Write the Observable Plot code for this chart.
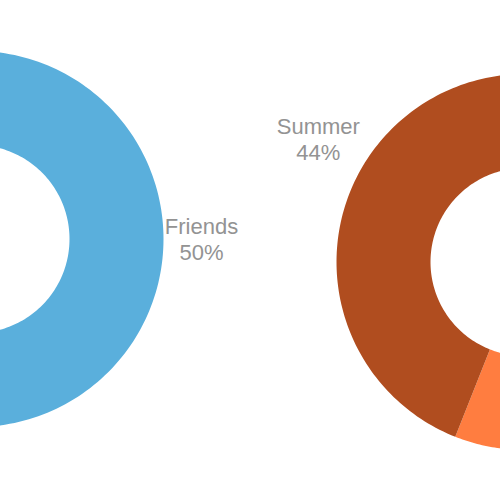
<!DOCTYPE html>
<html>
<head>
<meta charset="utf-8">
<script src="https://cdn.jsdelivr.net/npm/d3@7"></script>
<script src="https://cdn.jsdelivr.net/npm/@observablehq/plot@0.6"></script>
<style>
  html, body { margin: 0; padding: 0; background: #fff; }
  #chart { width: 500px; height: 500px; overflow: hidden; }
</style>
</head>
<body>
<div id="chart"></div>
<script>
// ---- data ----
const leftCategories = ["Friends", "Family"];
const leftValues = [50, 50];
const rightCategories = ["Spring", "Fall", "Summer"];
const rightValues = [30, 26, 44];
const categories = ["Friends", "Family", "Spring", "Fall", "Summer"];
const colors = ["#5aafdc", "#2e6f99", "#e8a33c", "#ff7d40", "#b04d1f"];

// ---- layout (pixels) ----
const W = 500, H = 500;
const donuts = [
  {cats: leftCategories, vals: leftValues, cx: -25, cy: 238.5, outer: 188, inner: 94,
   label: {Friends: {dAngle: 0, radius: 226}}},
  {cats: rightCategories, vals: rightValues, cx: 524, cy: 261.5, outer: 188, inner: 94,
   label: {Summer: {dAngle: 20, radius: 240}}}
];

const polys = [];
const labels = [];
donuts.forEach((dn, di) => {
  const total = d3.sum(dn.vals);
  const arcs = d3.pie().sort(null).value(d => d.v)(dn.cats.map((c, i) => ({c, v: dn.vals[i]})));
  arcs.forEach(a => {
    const id = di + "-" + a.data.c;
    const n = 120;
    for (let k = 0; k <= n; k++) {
      const t = a.startAngle + (a.endAngle - a.startAngle) * k / n;
      polys.push({id, cat: a.data.c, x: dn.cx + dn.outer * Math.sin(t), y: dn.cy - dn.outer * Math.cos(t)});
    }
    for (let k = n; k >= 0; k--) {
      const t = a.startAngle + (a.endAngle - a.startAngle) * k / n;
      polys.push({id, cat: a.data.c, x: dn.cx + dn.inner * Math.sin(t), y: dn.cy - dn.inner * Math.cos(t)});
    }
    const lab = dn.label[a.data.c];
    if (!lab) return; // labels of slices outside the visible frame are not drawn
    const mid = (a.startAngle + a.endAngle) / 2 + lab.dAngle * Math.PI / 180;
    labels.push({
      x: dn.cx + lab.radius * Math.sin(mid),
      y: dn.cy - lab.radius * Math.cos(mid),
      text: a.data.c + "\n" + Math.round(a.data.v / total * 100) + "%"
    });
  });
});

const chart = Plot.plot({
  width: W, height: H,
  margin: 0,
  x: {domain: [0, W], axis: null},
  y: {domain: [0, H], reverse: true, axis: null},
  color: {domain: categories, range: colors},
  style: {background: "#fff"},
  marks: [
    Plot.line(polys, {x: "x", y: "y", z: "id", fill: "cat", stroke: null, clip: true}),
    Plot.text(labels, {x: "x", y: "y", text: "text", fontSize: 22, lineHeight: 1.18,
      fill: "#939393", fontFamily: "Liberation Sans, Helvetica, Arial, sans-serif"})
  ]
});
document.getElementById("chart").appendChild(chart);
</script>
</body>
</html>
